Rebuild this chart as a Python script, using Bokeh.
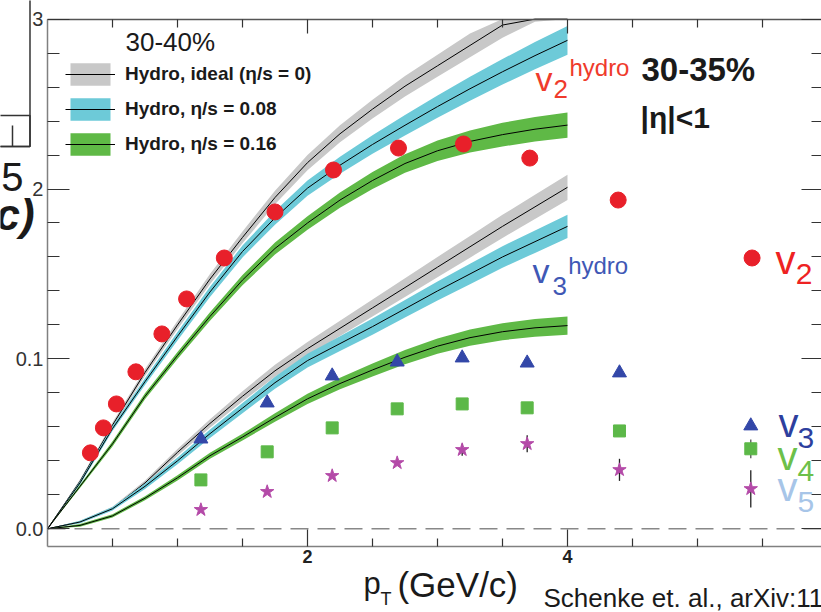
import numpy as np
from bokeh.plotting import figure
from bokeh.models import (Range1d, LinearAxis, FixedTicker, Label, Legend,
                          LegendItem, BoxAnnotation)
from bokeh.embed import file_html
from bokeh.resources import INLINE

# ---------------- data ----------------
# hydro calculations (Schenke et al.), pT grid in GeV/c
pt_hydro = [0, 0.25, 0.5, 0.75, 1.0, 1.25, 1.5, 1.75, 2.0, 2.25, 2.5, 2.75, 3.0, 3.25, 3.5, 3.75, 4.0]

v2_ideal = [0, 0.028, 0.061, 0.092, 0.120, 0.147, 0.1715, 0.195, 0.2155, 0.2325, 0.247,
            0.2605, 0.2725, 0.2845, 0.2965, 0.3065, 0.316]
v2_ideal_w = [0, 0.001, 0.0015, 0.002, 0.0025, 0.003, 0.0035, 0.004, 0.0045, 0.005, 0.0055,
              0.006, 0.0065, 0.007, 0.0075, 0.008, 0.0085]
v2_eta008 = [0, 0.027, 0.059, 0.0866, 0.1133, 0.1394, 0.1632, 0.183, 0.2005, 0.214, 0.2262,
             0.2375, 0.2485, 0.259, 0.269, 0.2785, 0.2875]
v2_eta008_w = [0, 0.001, 0.0015, 0.002, 0.0025, 0.003, 0.0035, 0.004, 0.0045, 0.005, 0.0055,
               0.006, 0.0065, 0.007, 0.0075, 0.008, 0.0085]
v2_eta016 = [0, 0.025, 0.050, 0.078, 0.102, 0.125, 0.1464, 0.165, 0.180, 0.1935, 0.205,
             0.215, 0.2225, 0.228, 0.232, 0.2352, 0.2376]
v2_eta016_w = [0, 0.001, 0.0015, 0.0018, 0.002, 0.0025, 0.003, 0.0035, 0.004, 0.0045, 0.005,
               0.0055, 0.006, 0.0065, 0.007, 0.0072, 0.0075]

v3_ideal = [0, 0.004, 0.012, 0.027, 0.045, 0.062, 0.078, 0.093, 0.106, 0.118, 0.130,
            0.142, 0.154, 0.166, 0.178, 0.1895, 0.201]
v3_ideal_w = [0, 0.0008, 0.001, 0.0015, 0.002, 0.0025, 0.003, 0.0035, 0.004, 0.0045, 0.005,
              0.0055, 0.006, 0.0064, 0.0068, 0.0071, 0.0074]
v3_eta008 = [0, 0.004, 0.0118, 0.025, 0.040, 0.056, 0.071, 0.086, 0.099, 0.109, 0.119,
             0.1295, 0.140, 0.150, 0.160, 0.169, 0.178]
v3_eta008_w = [0, 0.0008, 0.001, 0.0015, 0.002, 0.0025, 0.003, 0.0035, 0.004, 0.0044, 0.0048,
               0.0052, 0.0056, 0.006, 0.0063, 0.0066, 0.0069]
v3_eta016 = [0, 0.002, 0.0076, 0.018, 0.030, 0.043, 0.054, 0.0655, 0.0765, 0.0855, 0.0935,
             0.101, 0.1075, 0.1125, 0.116, 0.1183, 0.1196]
v3_eta016_w = [0, 0.0008, 0.001, 0.0012, 0.0015, 0.0018, 0.002, 0.0025, 0.003, 0.0034, 0.0038,
               0.0042, 0.0045, 0.0048, 0.005, 0.0052, 0.0054]

# measured flow harmonics, 30-35%, |eta|<1
pt_v2 = [0.33, 0.43, 0.53, 0.68, 0.88, 1.07, 1.36, 1.75, 2.20, 2.70, 3.20, 3.71, 4.39, 5.42]
v2 = [0.0447, 0.0594, 0.0735, 0.0924, 0.1147, 0.1353, 0.1594, 0.1865, 0.2112, 0.2241,
      0.2265, 0.2182, 0.1935, 0.1594]

pt_vn = [1.18, 1.69, 2.19, 2.69, 3.19, 3.69, 4.40, 5.41]
v3 = [0.0529, 0.0741, 0.0900, 0.0982, 0.1006, 0.0976, 0.0918, 0.0606]
v4 = [0.0288, 0.0453, 0.0594, 0.0706, 0.0735, 0.0712, 0.0576, 0.0471]
v4_err = [0, 0, 0, 0, 0, 0, 0, 0.0055]
v5 = [0.0112, 0.0218, 0.0312, 0.0388, 0.0465, 0.0500, 0.0347, 0.0235]
v5_err = [0, 0, 0.001, 0.0015, 0.0035, 0.005, 0.0065, 0.011]

x_major = [2, 4, 6]
x_minor = [0.5, 1.0, 1.5, 2.5, 3.0, 3.5, 4.5, 5.0, 5.5]
y_major = [0, 0.1, 0.2, 0.3]
y_minor = [0.02, 0.04, 0.06, 0.08, 0.12, 0.14, 0.16, 0.18, 0.22, 0.24, 0.26, 0.28]
y_labels = {0: "0.0", 0.1: "0.1", 0.2: "2", 0.3: "3"}

legend_labels = ["Hydro, ideal (\u03b7/s = 0)", "Hydro, \u03b7/s = 0.08", "Hydro, \u03b7/s = 0.16"]

# ---------------- style ----------------
FONT = "Liberation Sans"
GREY_BAND = "#c8c8c8"
CYAN_BAND = "#6dcad8"
GREEN_BAND = "#5fb946"
RED = "#e8202a"
BLUE = "#3347a8"
GREEN = "#5cb848"
MAGENTA = "#b44aa8"

X0, X1 = -0.3615, 5.954          # visible pT window
Y0, Y1 = -0.04926, 0.31095       # visible v_n window
X_AXIS_AT = -0.01042             # v_n where the pT axis sits
PT_MIN, V_MAX = 0.0, 0.3

p = figure(width=821, height=612, output_backend="svg", toolbar_location=None,
           x_range=Range1d(X0, X1), y_range=Range1d(Y0, Y1),
           x_axis_location=None, y_axis_location=None,
           min_border=0, min_border_left=0, min_border_right=0,
           min_border_top=0, min_border_bottom=0,
           background_fill_color="white", border_fill_color="white",
           outline_line_color=None)
p.xgrid.visible = False
p.ygrid.visible = False

xt = FixedTicker(ticks=x_major, minor_ticks=x_minor)
yt = FixedTicker(ticks=y_major, minor_ticks=y_minor)


def style_axis(ax, major_in, minor_in, line_color="#808080"):
    ax.major_tick_in = major_in
    ax.major_tick_out = 0
    ax.minor_tick_in = minor_in
    ax.minor_tick_out = 0
    ax.axis_line_color = line_color
    ax.axis_line_width = 1.5
    ax.major_tick_line_color = "#333333"
    ax.minor_tick_line_color = "#333333"
    ax.major_tick_line_width = 1.2
    ax.minor_tick_line_width = 1.2


left = LinearAxis(ticker=yt, major_label_overrides=y_labels,
                  fixed_location=PT_MIN, bounds=(X_AXIS_AT, V_MAX))
style_axis(left, 22, 12)
left.major_label_text_font = FONT
left.major_label_text_font_size = "20px"
left.major_label_text_color = "#333333"
left.major_label_standoff = 4
p.add_layout(left, "left")

right = LinearAxis(ticker=yt, fixed_location=X1, bounds=(X_AXIS_AT, V_MAX))
style_axis(right, 20, 10, line_color=None)
right.major_label_text_font_size = "1px"
right.major_label_text_alpha = 0
p.add_layout(right, "right")

bottom = LinearAxis(ticker=xt, fixed_location=X_AXIS_AT, bounds=(PT_MIN, X1))
style_axis(bottom, 17, 8)
bottom.major_label_text_font = FONT
bottom.major_label_text_font_style = "bold"
bottom.major_label_text_font_size = "18px"
bottom.major_label_text_color = "#222222"
bottom.major_label_standoff = 3
p.add_layout(bottom, "below")

top = LinearAxis(ticker=xt, fixed_location=V_MAX, bounds=(PT_MIN, X1))
style_axis(top, 14, 8, line_color="#555555")
top.major_label_text_font_size = "1px"
top.major_label_text_alpha = 0
p.add_layout(top, "above")

# zero line
p.segment(x0=[PT_MIN], y0=[0], x1=[6], y1=[0], line_color="#888888",
          line_width=1.5, line_dash="18 9")

# hydro bands (the plot frame ends at v = 0.3, so the drawing is clipped there)
pt_arr = np.array(pt_hydro)
curves = [
    (v2_ideal, v2_ideal_w, GREY_BAND, 0),
    (v2_eta008, v2_eta008_w, CYAN_BAND, 1),
    (v2_eta016, v2_eta016_w, GREEN_BAND, 2),
    (v3_ideal, v3_ideal_w, GREY_BAND, None),
    (v3_eta008, v3_eta008_w, CYAN_BAND, None),
    (v3_eta016, v3_eta016_w, GREEN_BAND, None),
]
legend_items = []
for vals, w, col, li in curves:
    c = np.array(vals)
    hw = np.array(w)
    lo = np.minimum(c - hw, V_MAX)
    hi = np.minimum(c + hw, V_MAX)
    band = p.varea(x=pt_arr, y1=lo, y2=hi, fill_color=col)
    ln = p.line(x=pt_arr, y=np.minimum(c, V_MAX), line_color="black", line_width=1)
    if li is not None:
        legend_items.append(LegendItem(label=legend_labels[li], renderers=[band, ln]))

# error bars
pt_vn_a = np.array(pt_vn)
p.segment(x0=pt_vn_a, y0=np.array(v5) - np.array(v5_err), x1=pt_vn_a,
          y1=np.array(v5) + np.array(v5_err), line_color="#222222", line_width=1.3)
p.segment(x0=pt_vn_a, y0=np.array(v4) - np.array(v4_err), x1=pt_vn_a,
          y1=np.array(v4) + np.array(v4_err), line_color="#555555", line_width=1.3)

# data markers
p.scatter(pt_v2, v2, marker="circle", size=16, fill_color=RED, line_color=RED)
p.scatter(pt_vn, v3, marker="triangle", size=14, fill_color=BLUE, line_color=BLUE)
p.scatter(pt_vn, v4, marker="square", size=12, fill_color=GREEN, line_color=GREEN)
p.scatter(pt_vn, v5, marker="star", size=14, fill_color=MAGENTA, line_color=MAGENTA)

# legend
legend = Legend(items=legend_items, location=(65, 454), glyph_width=50, glyph_height=28,
                spacing=7, padding=0, margin=0, label_standoff=10,
                label_text_font=FONT, label_text_font_style="bold",
                label_text_font_size="19px", label_text_color="#1a1a1a",
                background_fill_alpha=0, border_line_alpha=0)
p.add_layout(legend)


def lab(x, y, text, size, color="#1a1a1a", style="normal"):
    p.add_layout(Label(x=x, y=y, text=text, text_font=FONT, text_font_size=size,
                       text_color=color, text_font_style=style, text_align="left",
                       text_baseline="middle"))


lab(0.600, 0.2868, "30-40%", "26px")
# v2 hydro
lab(3.754, 0.2650, "v", "34px", "#ef3b2c")
lab(3.892, 0.2586, "2", "26px", "#ef3b2c")
lab(4.015, 0.2718, "hydro", "24px", "#ef3b2c")
lab(4.569, 0.2706, "30-35%", "33px", style="bold")
lab(4.562, 0.2418, "|\u03b7|<1", "30px", style="bold")
# v3 hydro
lab(3.730, 0.1515, "v", "34px", "#3f58b5")
lab(3.885, 0.1430, "3", "26px", "#3f58b5")
lab(4.005, 0.1552, "hydro", "24px", "#3f58b5")
# right-hand labels
lab(5.600, 0.1585, "v", "40px", "#ee2222")
lab(5.755, 0.1497, "2", "30px", "#ee2222")
lab(5.623, 0.0620, "v", "40px", "#2d3f9e")
lab(5.769, 0.0537, "3", "30px", "#2d3f9e")
lab(5.615, 0.0426, "v", "40px", "#6cc04a")
lab(5.769, 0.0343, "4", "30px", "#6cc04a")
lab(5.615, 0.0249, "v", "40px", "#a7c5e8")
lab(5.769, 0.0155, "5", "30px", "#a7c5e8")
# axis title
lab(2.431, -0.0322, "p", "31px")
lab(2.562, -0.0414, "T", "18px")
lab(2.692, -0.0325, "(GeV/c)", "35px")
lab(3.815, -0.0407, "Schenke et. al., arXiv:1109.6289", "26px")
# fragments of the neighbouring panel
lab(-0.355, 0.2068, "5", "40px")
lab(-0.400, 0.1852, "c)", "44px", style="bold italic")
for l, r, b, t in [(-0.5, -0.1346, 0.2250, 0.33), (-0.5, -0.1346, 0.2250, 0.2433),
                   (-0.2692, -0.2692, 0.2250, 0.2374)]:
    p.add_layout(BoxAnnotation(left=l, right=r, bottom=b, top=t, fill_alpha=0,
                               line_color="#333333", line_width=1.5, line_alpha=1))

open("out.html", "w").write(file_html(p, INLINE))
